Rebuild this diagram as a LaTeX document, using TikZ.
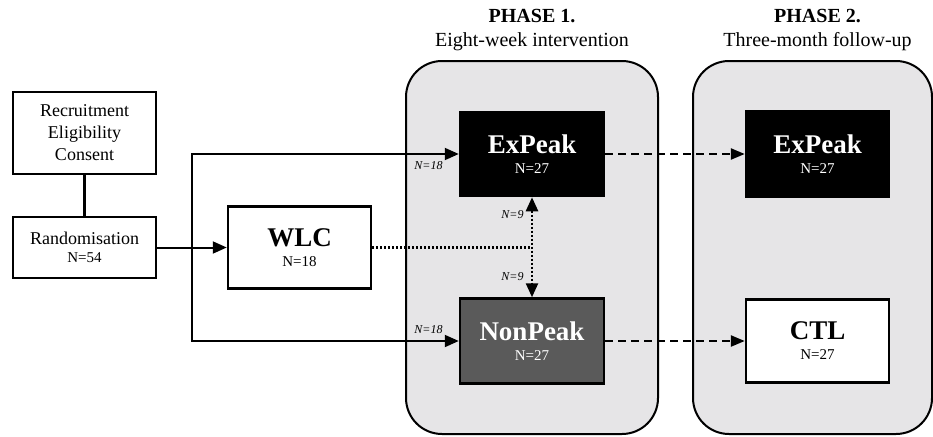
\documentclass[tikz,border=0pt]{standalone}
\usepackage{fontspec}
\setmainfont{Liberation Serif}
\usetikzlibrary{arrows.meta}
\definecolor{phasegray}{HTML}{E6E5E7}
\definecolor{npgray}{HTML}{5A5A5A}
\begin{document}
\begin{tikzpicture}[x=1pt,y=-1pt,
  plainbox/.style={draw, line width=2.5pt, fill=white, inner sep=0pt, align=center, text=black},
  phasebox/.style={draw, line width=2pt, fill=phasegray, rounded corners=36pt, inner sep=0pt},
  bigtxt/.style={font=\fontsize{27}{20}\selectfont\bfseries},
  conn/.style={line width=2pt, -{Triangle[length=14pt,width=12pt]}},
  dashconn/.style={line width=2.5pt, dash pattern=on 8pt off 5pt, -{Triangle[length=14pt,width=11pt]}},
  dotline/.style={line width=2.5pt, dash pattern=on 2pt off 2pt},
  lab/.style={font=\fontsize{12}{12}\selectfont\itshape, inner sep=0pt},
  ttl/.style={anchor=base, font=\fontsize{20}{20}\selectfont, inner sep=0pt}]
\useasboundingbox (0,0) rectangle (933,436);
% phase panels
\node[phasebox, minimum width=252pt, minimum height=373pt] (ph1) at (532,247.5) {};
\node[phasebox, minimum width=239pt, minimum height=373pt] (ph2) at (812.5,247.5) {};
% titles
\node[ttl, font=\fontsize{20}{20}\selectfont\bfseries] (t1a) at (532,23) {PHASE 1.};
\node[ttl] (t1b) at (532,46) {Eight-week intervention};
\node[ttl, font=\fontsize{20}{20}\selectfont\bfseries] (t2a) at (817.5,23) {PHASE 2.};
\node[ttl] (t2b) at (817.5,46) {Three-month follow-up};
% boxes
\node[plainbox, minimum width=143pt, minimum height=82pt, font=\fontsize{18}{22}\selectfont] (rec) at (84.5,133) {Recruitment\\Eligibility\\Consent};
\node[plainbox, minimum width=143pt, minimum height=61pt, font=\fontsize{18}{18}\selectfont] (rand) at (84.5,247.5) {Randomisation\\{\fontsize{15}{15}\selectfont N=54}};
\node[plainbox, bigtxt, minimum width=143pt, minimum height=82pt] (wlc) at (299.5,247.5) {WLC\\{\fontsize{15}{15}\selectfont\mdseries N=18}};
\node[plainbox, bigtxt, fill=black, text=white, minimum width=144pt, minimum height=84pt] (ex1) at (532,154) {ExPeak\\{\fontsize{15}{15}\selectfont\mdseries N=27}};
\node[plainbox, bigtxt, fill=npgray, text=white, minimum width=144pt, minimum height=85pt] (np) at (532,341) {NonPeak\\{\fontsize{15}{15}\selectfont\mdseries N=27}};
\node[plainbox, bigtxt, fill=black, text=white, minimum width=143pt, minimum height=85pt] (ex2) at (817.5,154) {ExPeak\\{\fontsize{15}{15}\selectfont\mdseries N=27}};
\node[plainbox, bigtxt, minimum width=143pt, minimum height=83pt] (ctl) at (817.5,341) {CTL\\{\fontsize{15}{15}\selectfont\mdseries N=27}};
% connectors
\draw[line width=2.5pt] (rec.south) -- (rand.north);
\draw[conn] (rand.east) -- (wlc.west);
\coordinate (split) at (192,247.5);
\draw[conn] (split) |- (ex1.west);
\draw[conn] (split) |- (np.west);
\coordinate (dj) at (ex1.south |- wlc.east);
\draw[dotline] (wlc.east) -- (dj);
\draw[dotline, {Triangle[length=14pt,width=12pt]}-{Triangle[length=14pt,width=12pt]}] (ex1.south) -- (np.north);
\draw[dashconn] (ex1.east) -- (ex2.west);
\draw[dashconn] (np.east) -- (ctl.west);
% labels
\node[lab] (l1) at (428.5,166) {N=18};
\node[lab] (l2) at (428.5,330) {N=18};
\node[lab] (l3) at (512.5,215) {N=9};
\node[lab] (l4) at (512.5,277) {N=9};
\end{tikzpicture}
\end{document}
